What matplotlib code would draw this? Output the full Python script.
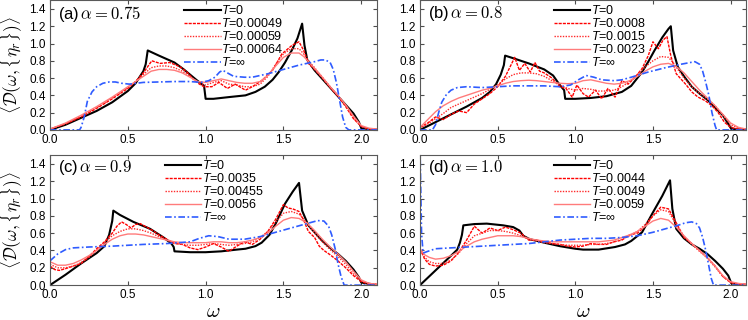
import numpy as np
import matplotlib
matplotlib.use("Agg")
import matplotlib.pyplot as plt

plt.rcParams['font.family'] = ['Liberation Sans', 'DejaVu Sans']
plt.rcParams['mathtext.fontset'] = 'cm'
plt.rcParams['mathtext.rm'] = 'Liberation Sans'
plt.rcParams['mathtext.it'] = 'Liberation Sans:italic'

# ---------------- datos ----------------
# (a) alpha = 0.75
xa_0 = [0.0, 0.1, 0.2, 0.3, 0.4, 0.5, 0.55, 0.6, 0.615, 0.628, 0.7, 0.8, 0.86, 0.94, 0.99, 1.0, 1.05,
        1.15, 1.256, 1.32, 1.38, 1.43, 1.47, 1.51, 1.556, 1.59, 1.62, 1.635, 1.653, 1.7, 1.75, 1.8, 1.85,
        1.9, 1.95, 1.985, 2.0, 2.1]
ya_0 = [0.0, 0.06, 0.14, 0.22, 0.32, 0.45, 0.54, 0.68, 0.76, 0.92, 0.86, 0.78, 0.70, 0.58, 0.51, 0.36, 0.36,
        0.38, 0.40, 0.44, 0.50, 0.58, 0.67, 0.78, 0.93, 1.06, 1.23, 0.98, 0.81, 0.69, 0.59, 0.49, 0.39,
        0.29, 0.19, 0.09, 0.02, 0.0]
xa_1 = [0.0, 0.1, 0.2, 0.3, 0.4, 0.5, 0.55, 0.6, 0.654, 0.707, 0.77, 0.836, 0.88, 0.92, 0.96, 0.99, 1.04,
        1.085, 1.14, 1.19, 1.256, 1.3, 1.36, 1.43, 1.49, 1.556, 1.6, 1.63, 1.66, 1.7, 1.75, 1.8, 1.85, 1.9,
        1.95, 2.0, 2.05, 2.1]
ya_1 = [0.01, 0.07, 0.15, 0.25, 0.36, 0.48, 0.56, 0.66, 0.80, 0.77, 0.78, 0.73, 0.67, 0.59, 0.53, 0.50, 0.50,
        0.55, 0.48, 0.53, 0.46, 0.50, 0.57, 0.69, 0.88, 0.98, 1.02, 0.92, 0.77, 0.70, 0.60, 0.49, 0.39, 0.27,
        0.13, 0.04, 0.01, 0.01]
xa_r = [0.0, 0.1, 0.2, 0.3, 0.4, 0.5, 0.55, 0.6, 0.65, 0.7, 0.75, 0.8, 0.85, 0.9, 0.95, 1.0, 1.05, 1.1,
        1.15, 1.2, 1.25, 1.3, 1.35, 1.4, 1.45, 1.5, 1.55, 1.6, 1.63, 1.67, 1.7, 1.75, 1.8, 1.85, 1.9, 1.95,
        2.0, 2.05, 2.1]
ya_2 = [0.01, 0.07, 0.16, 0.26, 0.37, 0.49, 0.56, 0.64, 0.72, 0.74, 0.74, 0.72, 0.68, 0.62, 0.55, 0.52, 0.55,
        0.57, 0.53, 0.52, 0.50, 0.50, 0.53, 0.62, 0.76, 0.88, 0.94, 0.94, 0.88, 0.78, 0.72, 0.61, 0.50, 0.40,
        0.28, 0.14, 0.04, 0.01, 0.01]
ya_3 = [0.01, 0.08, 0.17, 0.27, 0.38, 0.50, 0.56, 0.62, 0.68, 0.70, 0.70, 0.69, 0.66, 0.61, 0.56, 0.55, 0.57,
        0.59, 0.57, 0.55, 0.54, 0.54, 0.56, 0.63, 0.74, 0.84, 0.89, 0.89, 0.85, 0.77, 0.71, 0.61, 0.50, 0.40,
        0.29, 0.16, 0.05, 0.02, 0.01]
xa_inf = [0.0, 0.19, 0.2, 0.22, 0.24, 0.27, 0.3, 0.34, 0.38, 0.42, 0.46, 0.51, 0.6, 0.7, 0.8, 0.9, 0.97, 1.02,
          1.06, 1.09, 1.11, 1.14, 1.18, 1.25, 1.3, 1.4, 1.5, 1.6, 1.7, 1.74, 1.77, 1.8, 1.82, 1.84, 1.86, 1.88,
          1.9, 1.92, 2.1]
ya_inf = [0.0, 0.0, 0.03, 0.15, 0.33, 0.44, 0.50, 0.54, 0.555, 0.555, 0.54, 0.53, 0.55, 0.555, 0.56, 0.56, 0.55,
          0.57, 0.61, 0.67, 0.69, 0.66, 0.62, 0.61, 0.61, 0.65, 0.70, 0.75, 0.79, 0.81, 0.81, 0.78, 0.70, 0.55,
          0.35, 0.15, 0.03, 0.0, 0.0]

# (b) alpha = 0.8
xb_0 = [0.0, 0.1, 0.2, 0.3, 0.4, 0.45, 0.49, 0.52, 0.54, 0.548, 0.6, 0.7, 0.8, 0.857, 0.9, 0.928, 0.935, 1.0,
        1.1, 1.2, 1.3, 1.36, 1.43, 1.47, 1.51, 1.56, 1.6, 1.615, 1.63, 1.66, 1.7, 1.75, 1.8, 1.85, 1.9, 1.95,
        1.985, 2.005, 2.1]
yb_0 = [0.0, 0.09, 0.18, 0.27, 0.37, 0.44, 0.53, 0.64, 0.75, 0.86, 0.83, 0.77, 0.70, 0.63, 0.52, 0.46, 0.36,
        0.36, 0.37, 0.39, 0.44, 0.51, 0.67, 0.79, 0.92, 1.07, 1.17, 1.20, 0.92, 0.73, 0.62, 0.50, 0.42, 0.35,
        0.26, 0.17, 0.07, 0.01, 0.0]
xb_1 = [0.0, 0.05, 0.1, 0.15, 0.2, 0.25, 0.3, 0.35, 0.4, 0.45, 0.5, 0.55, 0.58, 0.61, 0.64, 0.675, 0.71, 0.74,
        0.77, 0.8, 0.85, 0.9, 0.94, 0.98, 1.01, 1.05, 1.085, 1.13, 1.17, 1.21, 1.256, 1.3, 1.34, 1.385, 1.43,
        1.47, 1.5, 1.535, 1.565, 1.59, 1.616, 1.65, 1.71, 1.75, 1.79, 1.835, 1.88, 1.92, 1.96, 2.0, 2.05, 2.1]
yb_1 = [0.03, 0.08, 0.15, 0.12, 0.18, 0.22, 0.20, 0.30, 0.36, 0.42, 0.50, 0.62, 0.73, 0.84, 0.69, 0.77, 0.67,
        0.78, 0.68, 0.66, 0.60, 0.50, 0.48, 0.38, 0.52, 0.42, 0.38, 0.46, 0.36, 0.48, 0.38, 0.57, 0.53, 0.61,
        0.71, 0.86, 1.02, 0.94, 1.04, 1.08, 0.85, 0.65, 0.53, 0.44, 0.38, 0.34, 0.28, 0.20, 0.09, 0.03, 0.01, 0.01]
xb_r = [0.0, 0.05, 0.1, 0.15, 0.2, 0.25, 0.3, 0.35, 0.4, 0.45, 0.5, 0.55, 0.6, 0.65, 0.7, 0.75, 0.8, 0.85,
        0.9, 0.95, 1.0, 1.05, 1.1, 1.15, 1.2, 1.25, 1.3, 1.35, 1.4, 1.45, 1.5, 1.55, 1.6, 1.63, 1.66, 1.7,
        1.75, 1.8, 1.85, 1.9, 1.95, 2.0, 2.05, 2.1]
yb_2 = [0.02, 0.07, 0.13, 0.19, 0.26, 0.30, 0.34, 0.38, 0.42, 0.47, 0.52, 0.59, 0.64, 0.66, 0.66, 0.65, 0.62,
        0.57, 0.52, 0.48, 0.46, 0.48, 0.47, 0.45, 0.45, 0.46, 0.50, 0.56, 0.64, 0.73, 0.80, 0.85, 0.84, 0.78,
        0.70, 0.60, 0.50, 0.42, 0.36, 0.28, 0.17, 0.06, 0.02, 0.01]
yb_3 = [0.03, 0.12, 0.21, 0.28, 0.33, 0.37, 0.40, 0.43, 0.46, 0.48, 0.51, 0.54, 0.56, 0.57, 0.575, 0.57, 0.56,
        0.55, 0.54, 0.535, 0.54, 0.57, 0.58, 0.56, 0.54, 0.53, 0.54, 0.57, 0.62, 0.68, 0.73, 0.76, 0.77, 0.75,
        0.72, 0.66, 0.56, 0.46, 0.37, 0.28, 0.18, 0.08, 0.03, 0.01]
xb_inf = [0.0, 0.08, 0.1, 0.12, 0.14, 0.17, 0.2, 0.24, 0.3, 0.4, 0.5, 0.6, 0.7, 0.8, 0.9, 0.97, 1.02, 1.07,
          1.12, 1.17, 1.25, 1.3, 1.36, 1.47, 1.58, 1.68, 1.74, 1.77, 1.8, 1.82, 1.84, 1.86, 1.88, 1.9, 1.91, 2.1]
yb_inf = [0.0, 0.0, 0.06, 0.2, 0.32, 0.41, 0.46, 0.49, 0.50, 0.49, 0.50, 0.51, 0.51, 0.51, 0.50, 0.52, 0.58,
          0.63, 0.61, 0.58, 0.57, 0.58, 0.61, 0.67, 0.72, 0.76, 0.78, 0.79, 0.76, 0.68, 0.55, 0.40, 0.20, 0.05,
          0.0, 0.0]

# (c) alpha = 0.9
xc_0 = [0.0, 0.1, 0.2, 0.3, 0.35, 0.38, 0.4, 0.407, 0.45, 0.536, 0.643, 0.73, 0.78, 0.795, 0.8, 0.9, 1.0, 1.1,
        1.2, 1.256, 1.32, 1.36, 1.41, 1.45, 1.51, 1.56, 1.6, 1.62, 1.66, 1.7, 1.75, 1.8, 1.85, 1.9, 1.95,
        1.985, 2.0, 2.1]
yc_0 = [0.0, 0.12, 0.25, 0.37, 0.45, 0.58, 0.74, 0.86, 0.81, 0.73, 0.65, 0.55, 0.48, 0.44, 0.39, 0.38, 0.38,
        0.39, 0.41, 0.42, 0.45, 0.49, 0.58, 0.71, 0.94, 1.08, 1.18, 0.86, 0.69, 0.61, 0.51, 0.43, 0.36, 0.28,
        0.18, 0.09, 0.03, 0.0]
xc_1 = [0.0, 0.03, 0.06, 0.1, 0.15, 0.2, 0.25, 0.3, 0.35, 0.4, 0.43, 0.46, 0.49, 0.52, 0.55, 0.58, 0.62, 0.66,
        0.7, 0.75, 0.8, 0.85, 0.9, 0.95, 1.0, 1.05, 1.1, 1.15, 1.2, 1.25, 1.3, 1.35, 1.4, 1.45, 1.5, 1.53,
        1.56, 1.6, 1.63, 1.66, 1.7, 1.73, 1.76, 1.8, 1.85, 1.9, 1.95, 2.0, 2.05, 2.1]
yc_1 = [0.22, 0.18, 0.17, 0.19, 0.22, 0.25, 0.33, 0.42, 0.50, 0.60, 0.68, 0.73, 0.70, 0.66, 0.70, 0.71, 0.67,
        0.63, 0.58, 0.53, 0.48, 0.47, 0.43, 0.41, 0.44, 0.48, 0.44, 0.39, 0.45, 0.50, 0.47, 0.53, 0.62, 0.76,
        0.93, 0.89, 0.88, 0.85, 0.75, 0.62, 0.55, 0.45, 0.40, 0.35, 0.28, 0.20, 0.11, 0.04, 0.01, 0.01]
xc_r = [0.0, 0.05, 0.1, 0.15, 0.2, 0.25, 0.3, 0.35, 0.4, 0.45, 0.5, 0.55, 0.6, 0.65, 0.7, 0.75, 0.8, 0.85,
        0.9, 0.95, 1.0, 1.05, 1.1, 1.15, 1.2, 1.25, 1.3, 1.35, 1.4, 1.45, 1.5, 1.55, 1.6, 1.65, 1.7, 1.75,
        1.8, 1.85, 1.9, 1.95, 2.0, 2.05, 2.1]
yc_2 = [0.24, 0.20, 0.20, 0.22, 0.26, 0.32, 0.40, 0.49, 0.57, 0.62, 0.65, 0.65, 0.63, 0.60, 0.56, 0.52, 0.49,
        0.47, 0.46, 0.46, 0.47, 0.48, 0.47, 0.46, 0.47, 0.48, 0.50, 0.55, 0.62, 0.73, 0.83, 0.85, 0.82, 0.72,
        0.60, 0.50, 0.41, 0.33, 0.24, 0.13, 0.05, 0.02, 0.01]
yc_3 = [0.27, 0.23, 0.23, 0.25, 0.29, 0.34, 0.40, 0.47, 0.53, 0.57, 0.59, 0.59, 0.58, 0.56, 0.54, 0.52, 0.50,
        0.49, 0.49, 0.49, 0.49, 0.50, 0.50, 0.49, 0.49, 0.50, 0.52, 0.55, 0.60, 0.68, 0.75, 0.78, 0.77, 0.72,
        0.63, 0.53, 0.44, 0.36, 0.27, 0.16, 0.06, 0.02, 0.01]
xc_inf = [0.0, 0.05, 0.1, 0.15, 0.25, 0.4, 0.5, 0.6, 0.75, 0.9, 0.96, 1.02, 1.08, 1.15, 1.25, 1.35, 1.45, 1.55,
          1.65, 1.72, 1.76, 1.79, 1.81, 1.835, 1.85, 1.87, 1.89, 2.1]
yc_inf = [0.28, 0.36, 0.41, 0.43, 0.44, 0.45, 0.46, 0.47, 0.48, 0.50, 0.54, 0.57, 0.56, 0.53, 0.53, 0.56, 0.61,
          0.66, 0.71, 0.745, 0.74, 0.68, 0.58, 0.40, 0.25, 0.10, 0.0, 0.0]

# (d) alpha = 1.0
xd_0 = [0.0, 0.1, 0.2, 0.24, 0.257, 0.27, 0.279, 0.35, 0.43, 0.536, 0.6, 0.64, 0.665, 0.707, 0.8, 0.9, 1.0,
        1.05, 1.15, 1.256, 1.32, 1.36, 1.43, 1.5, 1.56, 1.61, 1.625, 1.65, 1.7, 1.75, 1.8, 1.85, 1.9, 1.95,
        1.985, 2.005, 2.1]
yd_0 = [0.0, 0.17, 0.34, 0.41, 0.49, 0.58, 0.69, 0.705, 0.71, 0.69, 0.67, 0.63, 0.57, 0.53, 0.49, 0.45, 0.42,
        0.41, 0.41, 0.44, 0.47, 0.51, 0.61, 0.84, 1.03, 1.21, 0.88, 0.65, 0.54, 0.47, 0.42, 0.36, 0.28, 0.19,
        0.11, 0.02, 0.0]
xd_r = [0.0, 0.03, 0.06, 0.1, 0.15, 0.2, 0.25, 0.3, 0.35, 0.4, 0.45, 0.5, 0.55, 0.6, 0.65, 0.7, 0.75, 0.8,
        0.85, 0.9, 0.95, 1.0, 1.05, 1.1, 1.15, 1.2, 1.25, 1.3, 1.35, 1.4, 1.45, 1.5, 1.55, 1.6, 1.65, 1.7,
        1.75, 1.8, 1.85, 1.9, 1.95, 2.0, 2.05, 2.1]
yd_1 = [0.42, 0.30, 0.24, 0.22, 0.23, 0.28, 0.38, 0.52, 0.68, 0.60, 0.66, 0.63, 0.67, 0.64, 0.60, 0.52, 0.52,
        0.50, 0.48, 0.47, 0.45, 0.44, 0.45, 0.48, 0.47, 0.47, 0.50, 0.52, 0.58, 0.60, 0.68, 0.80, 0.90, 0.88,
        0.72, 0.55, 0.48, 0.40, 0.32, 0.22, 0.10, 0.03, 0.01, 0.01]
yd_2 = [0.42, 0.32, 0.27, 0.25, 0.25, 0.29, 0.37, 0.48, 0.57, 0.60, 0.63, 0.63, 0.62, 0.60, 0.57, 0.53, 0.51,
        0.49, 0.48, 0.47, 0.46, 0.46, 0.46, 0.47, 0.47, 0.48, 0.50, 0.53, 0.57, 0.62, 0.70, 0.80, 0.87, 0.85,
        0.70, 0.56, 0.47, 0.39, 0.31, 0.21, 0.10, 0.03, 0.01, 0.01]
yd_3 = [0.42, 0.35, 0.32, 0.30, 0.31, 0.34, 0.39, 0.45, 0.50, 0.53, 0.55, 0.57, 0.57, 0.57, 0.56, 0.54, 0.52,
        0.51, 0.50, 0.50, 0.50, 0.50, 0.50, 0.50, 0.50, 0.51, 0.52, 0.55, 0.58, 0.62, 0.68, 0.74, 0.77, 0.75,
        0.67, 0.57, 0.48, 0.40, 0.32, 0.22, 0.11, 0.04, 0.02, 0.01]
xd_inf = [0.0, 0.005, 0.01, 0.02, 0.05, 0.1, 0.2, 0.3, 0.4, 0.5, 0.6, 0.7, 0.8, 0.9, 1.0, 1.1, 1.2, 1.3, 1.4,
          1.5, 1.6, 1.66, 1.71, 1.75, 1.78, 1.8, 1.82, 1.84, 1.86, 1.875, 1.89, 2.1]
yd_inf = [1.6, 1.1, 0.6, 0.37, 0.39, 0.42, 0.43, 0.44, 0.45, 0.46, 0.47, 0.48, 0.50, 0.52, 0.53, 0.54, 0.54,
          0.55, 0.57, 0.61, 0.66, 0.69, 0.72, 0.73, 0.71, 0.66, 0.55, 0.40, 0.22, 0.08, 0.0, 0.0]

paneles = ['(a)', '(b)', '(c)', '(d)']
alphas = ['0.75', '0.8', '0.9', '1.0']
temps = [['0.00049', '0.00059', '0.00064'],
         ['0.0008', '0.0015', '0.0023'],
         ['0.0035', '0.00455', '0.0056'],
         ['0.0044', '0.0049', '0.0059']]

curvas = [
    [(xa_0, ya_0), (xa_1, ya_1), (xa_r, ya_2), (xa_r, ya_3), (xa_inf, ya_inf)],
    [(xb_0, yb_0), (xb_1, yb_1), (xb_r, yb_2), (xb_r, yb_3), (xb_inf, yb_inf)],
    [(xc_0, yc_0), (xc_1, yc_1), (xc_r, yc_2), (xc_r, yc_3), (xc_inf, yc_inf)],
    [(xd_0, yd_0), (xd_r, yd_1), (xd_r, yd_2), (xd_r, yd_3), (xd_inf, yd_inf)],
]

# ---------------- graficar ----------------
fig = plt.figure(figsize=(7.48, 3.2), dpi=100)
posiciones = [[0.0668, 0.594, 0.437, 0.405], [0.5615, 0.594, 0.436, 0.405],
              [0.0668, 0.109, 0.437, 0.406], [0.5615, 0.109, 0.436, 0.406]]
leg_x = [0.40, 0.40, 0.34, 0.40]

estilos = [dict(color='k', lw=1.5, ls='-'),
           dict(color='#ff0000', lw=1.0, ls=(0, (2.2, 0.8))),
           dict(color='#ff2a2a', lw=1.0, ls=(0, (1, 1))),
           dict(color='#ff7b7b', lw=1.0, ls='-'),
           dict(color='#2f5cff', lw=1.2, ls=(0, (4, 1.5, 1, 1.5)))]

for i in range(4):
    ax = fig.add_axes(posiciones[i])
    etiquetas = ['$T$=0'] + ['$T$=' + t for t in temps[i]] + ['$T$=∞']
    for (x, y), st, lab in zip(curvas[i], estilos, etiquetas):
        ax.plot(x, y, label=lab, **st)
    ax.set_xlim(0, 2.1)
    ax.set_ylim(0, 1.5)
    ax.set_xticks([0, 0.5, 1.0, 1.5, 2.0])
    ax.set_yticks(np.arange(0, 1.41, 0.2))
    ax.xaxis.set_major_formatter(matplotlib.ticker.FormatStrFormatter('%.1f'))
    ax.yaxis.set_major_formatter(matplotlib.ticker.FormatStrFormatter('%.1f'))
    ax.tick_params(direction='in', top=True, right=True, labelsize=8.5, length=3, pad=3, color='0.3')
    for s in ax.spines.values():
        s.set_color('0.35')
    ax.text(0.025, 0.975, paneles[i] + r'$\,\alpha = ' + alphas[i] + '$', transform=ax.transAxes,
            ha='left', va='top', fontsize=12)
    leg = ax.legend(loc='upper left', bbox_to_anchor=(leg_x[i], 1.0), frameon=False, fontsize=9,
                    handlelength=2.9, handletextpad=0.05, labelspacing=0.0, borderpad=0.3,
                    borderaxespad=0.0)
    for t in leg.get_texts():
        t.set_math_fontfamily('custom')
    if i % 2 == 0:
        ax.set_ylabel(r'$\langle \mathcal{D}(\omega, \{\eta_r\})\rangle$', fontsize=12.5)
        ax.yaxis.set_label_coords(-0.075, 0.5)
    if i >= 2:
        ax.set_xlabel(r'$\omega$', fontsize=15)
        ax.xaxis.set_label_coords(0.5, -0.13)

plt.savefig('out.png', dpi=100)
